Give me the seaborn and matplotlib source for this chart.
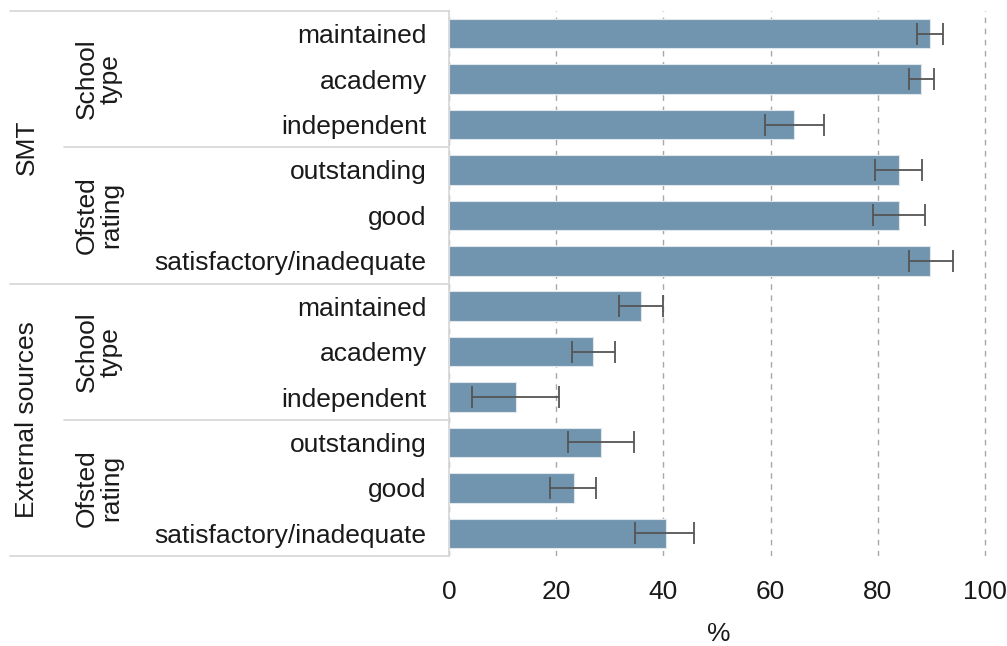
import matplotlib
matplotlib.use("Agg")
import matplotlib.pyplot as plt
import seaborn as sns
import pandas as pd
import numpy as np

# ---- data ----
groups = ["SMT", "External sources"]
subgroups = ["School\ntype", "Ofsted\nrating"]
categories = ["maintained", "academy", "independent",
              "outstanding", "good", "satisfactory/inadequate",
              "maintained", "academy", "independent",
              "outstanding", "good", "satisfactory/inadequate"]
values = [89.8, 88.1, 64.4, 83.9, 83.9, 89.8,
          35.8, 26.9, 12.5, 28.4, 23.3, 40.4]
ci_low = [87.3, 85.9, 59.0, 79.5, 79.1, 85.9,
          31.8, 23.0, 4.2, 22.2, 18.8, 34.7]
ci_high = [92.1, 90.4, 70.0, 88.3, 88.8, 94.0,
           40.0, 30.9, 20.6, 34.6, 27.5, 45.8]
xticks = [0, 20, 40, 60, 80, 100]
xlabel = "%"

sns.set_theme(style="white")
plt.rcParams['font.family'] = ['Liberation Sans', 'DejaVu Sans']

row_ids = [f"r{i}" for i in range(len(categories))]
df = pd.DataFrame({"row": row_ids, "label": categories, "value": values})

fig = plt.figure(figsize=(10.07, 6.46), dpi=100)
L, R, T, B = 449, 987.7, 11, 556
W, H = 1007, 646
ax = fig.add_axes([L / W, 1 - B / H, (R - L) / W, (B - T) / H])

bar_color = "#7195AF"
sns.barplot(data=df, y="row", x="value", order=row_ids, orient="h",
            color=bar_color, saturation=1, width=0.65, errorbar=None,
            edgecolor="#dfe6ec", linewidth=0.8, ax=ax)

vals = np.array(values)
xerr = np.vstack([vals - np.array(ci_low), np.array(ci_high) - vals])
ax.errorbar(vals, np.arange(len(values)), xerr=xerr, fmt="none",
            ecolor="#555555", elinewidth=1.3, capsize=8, capthick=1.3, zorder=5)

ax.set_xlim(0, 100.5)
ax.set_ylim(len(values) - 0.5, -0.5)
ax.set_xticks(xticks)
ax.set_xticklabels([str(t) for t in xticks])
ax.set_yticks(range(len(categories)))
ax.set_yticklabels(categories)
ax.tick_params(axis="y", length=0, pad=16, labelsize=19, labelcolor="#1a1a1a")
ax.tick_params(axis="x", length=0, pad=17, labelsize=19, labelcolor="#1a1a1a")
ax.set_ylabel("")
ax.set_xlabel(xlabel, fontsize=19, color="#1a1a1a", labelpad=13)

ax.xaxis.grid(True, color="#a8a8a8", linestyle=(0, (4, 4)), linewidth=1.0)
ax.yaxis.grid(False)
ax.set_axisbelow(True)
for s in ["top", "right", "bottom"]:
    ax.spines[s].set_visible(False)
ax.spines["left"].set_color("#d6d6d6")
ax.spines["left"].set_linewidth(1.2)
ax.spines["left"].set_zorder(6)

# left table structure
tr = ax.get_yaxis_transform()
def xa(px):
    return (px - L) / (R - L)

line_kw = dict(color="#d6d6d6", linewidth=1.2, transform=tr, clip_on=False)
for yb in [-0.5, 5.5, 11.5]:
    ax.plot([xa(10), 0], [yb, yb], **line_kw)
for yb in [2.5, 8.5]:
    ax.plot([xa(64), 0], [yb, yb], **line_kw)

for gi, g in enumerate(groups):
    ax.text(xa(27), gi * 6 + 2.5, g, rotation=90, ha="center", va="center",
            fontsize=19, color="#1a1a1a", transform=tr)
    for si, sg in enumerate(subgroups):
        ax.text(xa(99), gi * 6 + si * 3 + 1, sg, rotation=90, ha="center",
                va="center", fontsize=19, color="#1a1a1a", linespacing=1.0,
                multialignment="center", transform=tr)

fig.savefig("out.png", dpi=100)
